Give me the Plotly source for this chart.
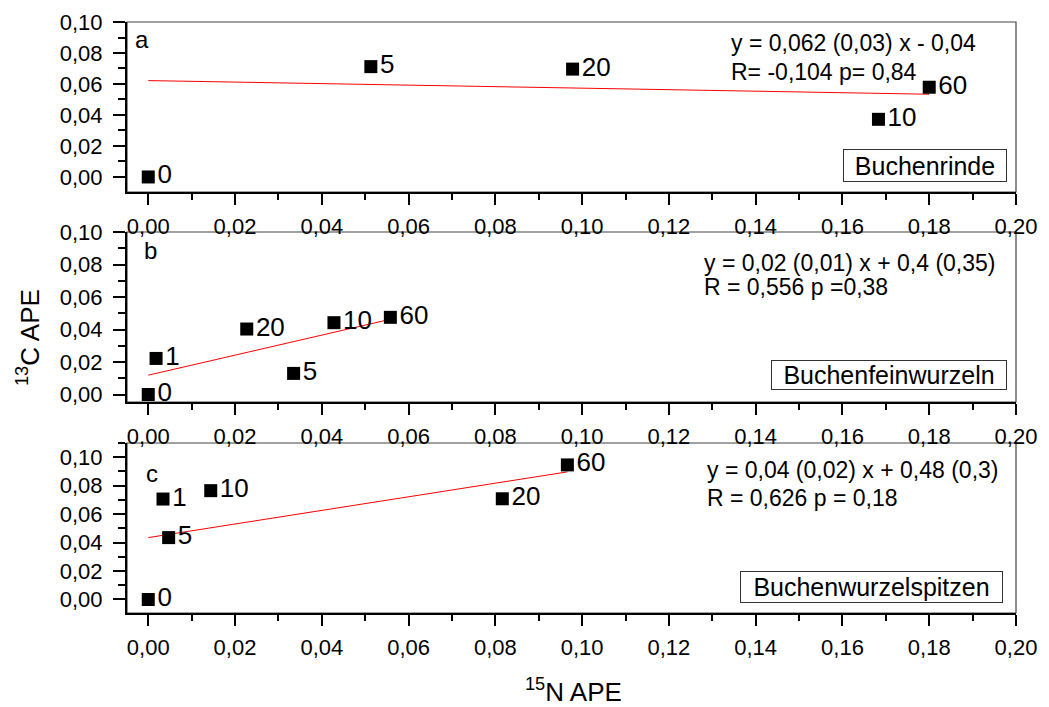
import plotly.graph_objects as go

W, H = 1049, 707

# ---- data -------------------------------------------------------------
# a: Buchenrinde
a_n15 = [0.000, 0.0513, 0.0978, 0.1683, 0.1800]
a_c13 = [0.000, 0.0712, 0.0696, 0.0372, 0.0579]
a_tag = ["0", "5", "20", "10", "60"]
a_fit_x = [0.000, 0.1800]
a_fit_y = [0.0622, 0.0534]

# b: Buchenfeinwurzeln
b_n15 = [0.000, 0.0018, 0.0227, 0.0335, 0.0428, 0.0558]
b_c13 = [0.000, 0.0222, 0.0403, 0.0130, 0.0442, 0.0475]
b_tag = ["0", "1", "20", "5", "10", "60"]
b_fit_x = [0.000, 0.0558]
b_fit_y = [0.0119, 0.0463]

# c: Buchenwurzelspitzen
c_n15 = [0.000, 0.0034, 0.0047, 0.0144, 0.0816, 0.0966]
c_c13 = [0.000, 0.0706, 0.0435, 0.0765, 0.0708, 0.0946]
c_tag = ["0", "1", "5", "10", "20", "60"]
c_fit_x = [0.000, 0.0966]
c_fit_y = [0.0435, 0.0897]

panel_letters = ["a", "b", "c"]
tissue_names = ["Buchenrinde", "Buchenfeinwurzeln", "Buchenwurzelspitzen"]
eq_line1 = ["y = 0,062 (0,03) x - 0,04",
            "y = 0,02 (0,01) x + 0,4 (0,35)",
            "y = 0,04 (0,02) x + 0,48 (0,3)"]
eq_line2 = ["R= -0,104 p= 0,84",
            "R = 0,556 p =0,38",
            "R = 0,626 p = 0,18"]

FONT = "Liberation Sans, Arial, sans-serif"


def px(x):
    return x / W


def py(y):
    return 1 - y / H


# panel geometry (pixels)
x_left, x_right = 127, 1016
panel_px = [(22, 192), (232, 402), (443, 613)]
y_ranges = [[-0.0097, 0.10], [-0.0046, 0.10], [-0.0095, 0.110]]
x_range = [-0.0049, 0.20]

series = [
    (a_n15, a_c13, a_tag, a_fit_x, a_fit_y),
    (b_n15, b_c13, b_tag, b_fit_x, b_fit_y),
    (c_n15, c_c13, c_tag, c_fit_x, c_fit_y),
]

fig = go.Figure()
layout = dict(
    width=W, height=H,
    margin=dict(l=0, r=0, t=0, b=0),
    paper_bgcolor="white", plot_bgcolor="white",
    showlegend=False,
    separators=",.",
    font=dict(family=FONT, color="black"),
)

annotations = []
shapes = []

for i, (xs, ys, tags, fx, fy) in enumerate(series):
    n = "" if i == 0 else str(i + 1)
    xa, ya = "x" + n, "y" + n
    fig.add_trace(go.Scatter(
        x=fx, y=fy, mode="lines", xaxis=xa, yaxis=ya,
        line=dict(color="red", width=1), hoverinfo="skip",
    ))
    fig.add_trace(go.Scatter(
        x=xs, y=ys, mode="markers+text", xaxis=xa, yaxis=ya,
        text=tags, textposition="middle right",
        textfont=dict(size=26, family=FONT, color="black"),
        marker=dict(symbol="square", size=13, color="black"),
        cliponaxis=False,
    ))
    top, bot = panel_px[i]
    layout["xaxis" + n] = dict(
        domain=[px(x_left), px(x_right)], anchor=ya, range=x_range,
        showline=True, linewidth=2, linecolor="black", mirror=False,
        showgrid=False, zeroline=False,
        ticks="outside", ticklen=11, tickwidth=2, tickcolor="black",
        tick0=0, dtick=0.02, tickformat=".2f",
        tickfont=dict(size=22, family=FONT, color="black"),
        ticklabelstandoff=3,
        minor=dict(ticks="outside", ticklen=6, tickwidth=2,
                   tickcolor="black", tick0=0, dtick=0.01),
        automargin=False, fixedrange=True,
    )
    layout["yaxis" + n] = dict(
        domain=[py(bot), py(top)], anchor=xa, range=y_ranges[i],
        showline=True, linewidth=2, linecolor="black", mirror=False,
        showgrid=False, zeroline=False,
        ticks="outside", ticklen=12, tickwidth=2, tickcolor="black",
        tick0=0, dtick=0.02, tickformat=".2f",
        tickfont=dict(size=22, family=FONT, color="black"),
        ticklabelstandoff=6,
        minor=dict(ticks="outside", ticklen=7, tickwidth=2,
                   tickcolor="black", tick0=0, dtick=0.01),
        automargin=False, fixedrange=True,
    )
    # thin frame on top and right
    shapes.append(dict(type="rect", xref=xa + " domain", yref=ya + " domain",
                       x0=0, x1=1, y0=0, y1=1, layer="below",
                       line=dict(color="#444", width=1.2)))

# panel letters
letter_pos = [(133, 39), (142, 250), (144, 473)]
for (lx, ly), t in zip(letter_pos, panel_letters):
    annotations.append(dict(text=t, x=px(lx), y=py(ly), xref="paper", yref="paper",
                            xanchor="left", yanchor="middle", showarrow=False,
                            font=dict(size=24, family=FONT, color="black")))

# regression equations
eq_pos = [((729, 43.5), (729, 71.7)), ((702, 263), (702, 287)), ((705, 470), (705, 498))]
for (p1, p2), t1, t2 in zip(eq_pos, eq_line1, eq_line2):
    for (ex, ey), t in ((p1, t1), (p2, t2)):
        annotations.append(dict(text=t, x=px(ex), y=py(ey), xref="paper", yref="paper",
                                xanchor="left", yanchor="middle", showarrow=False,
                                font=dict(size=23, family=FONT, color="black")))

# boxed tissue names
box_px = [(843, 1007, 149, 182), (771, 1007, 360, 390), (740, 1003, 571, 603)]
for (bx0, bx1, by0, by1), t in zip(box_px, tissue_names):
    annotations.append(dict(text=t, x=px((bx0 + bx1) / 2), y=py((by0 + by1) / 2),
                            xref="paper", yref="paper", xanchor="center", yanchor="middle",
                            showarrow=False, width=bx1 - bx0 - 4, height=by1 - by0 - 4,
                            align="center", valign="middle",
                            bordercolor="#333", borderwidth=1, borderpad=1, bgcolor="white",
                            font=dict(size=25, family=FONT, color="black")))

# axis titles
annotations.append(dict(text="<sup>13</sup>C APE", x=px(28), y=py(338), xref="paper", yref="paper",
                        xanchor="center", yanchor="middle", textangle=-90, showarrow=False,
                        font=dict(size=26, family=FONT, color="black")))
annotations.append(dict(text="<sup>15</sup>N APE", x=px(573), y=py(690), xref="paper", yref="paper",
                        xanchor="center", yanchor="middle", showarrow=False,
                        font=dict(size=26, family=FONT, color="black")))

layout["annotations"] = annotations
layout["shapes"] = shapes
fig.update_layout(**layout)

fig.write_html("out.html", config=dict(displayModeBar=False))
